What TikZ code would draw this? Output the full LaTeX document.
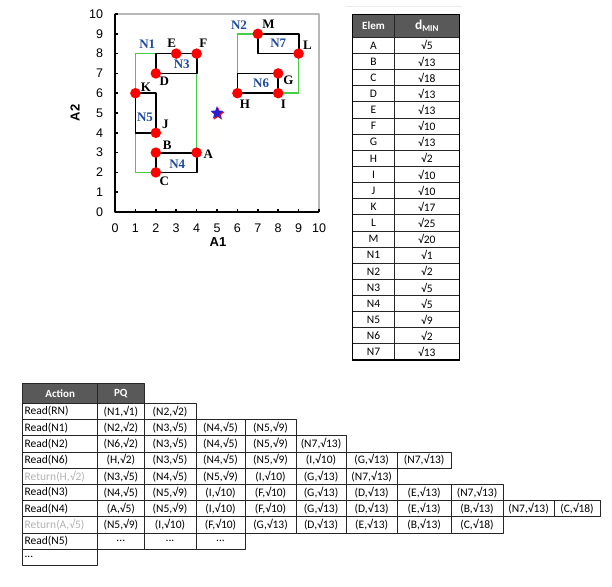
\documentclass[tikz,border=0pt]{standalone}
\usepackage{fontspec}
\setmainfont{Liberation Serif}
\newfontfamily\cellfont{Carlito}
\newfontfamily\axisfont{Liberation Sans}
\usetikzlibrary{shapes.geometric}

\definecolor{nodeblue}{RGB}{31,73,155}
\definecolor{boxgreen}{RGB}{70,205,70}
\definecolor{headgray}{RGB}{89,89,89}
\definecolor{starblue}{RGB}{40,30,215}

\tikzset{
  pt/.style={circle,fill=red,inner sep=0pt,minimum size=10.5pt},
  ptlabel/.style={font=\fontsize{13}{13}\selectfont\bfseries,inner sep=0pt},
  nlabel/.style={ptlabel,text=nodeblue},
  mbr/.style={draw=black,line width=1.8pt},
  gmbr/.style={draw=boxgreen,line width=1.6pt},
  ticklabel/.style={font=\axisfont\fontsize{12.5}{12.5}\selectfont,inner sep=0pt},
  axislabel/.style={font=\axisfont\bfseries\fontsize{13}{13}\selectfont,inner sep=0pt},
  cell/.style={draw=black!85,line width=0.8pt},
  celltext/.style={font=\cellfont\fontsize{11.5}{11.5}\selectfont,inner sep=0pt},
  headcell/.style={cell,fill=headgray},
  headtext/.style={inner sep=0pt,text=white,font=\cellfont\bfseries\fontsize{11}{11}\selectfont}
}

\def\pqcols{{97.7,144,196,245,296,346,397.3,451,503,554,600}}
\newcommand{\moreq}{...}

\begin{document}
\begin{tikzpicture}[line cap=round,line join=round,x=1pt,y=-1pt]
	\useasboundingbox (0,0) rectangle (612,586);

	% the scatter plot
	\begin{scope}[shift={(115,212)},x=20.4pt,y=19.8pt]
		\draw[color=black!28,line width=1.5pt] (0,10) -- (10,10) -- (10,0);
		\draw[gmbr] (1,2) rectangle (4,8);
		\draw[gmbr] (6,6) rectangle (9,9);
		\draw[mbr] (2,7) rectangle (4,8);
		\draw[mbr] (2,2) rectangle (4,3);
		\draw[mbr] (1,4) rectangle (2,6);
		\draw[mbr] (6,6) rectangle (8,7);
		\draw[mbr] (7,8) rectangle (9,9);
		\draw[color=black,line width=2.2pt,line cap=butt] (0,10) -- (0,0) -- (10,0);
		\foreach \i in {0,...,10} {
			\draw[line width=1.5pt,line cap=butt] (\i,0) -- ++(0,0.17);
			\draw[line width=1.5pt,line cap=butt] (0,\i) -- ++(0.17,0);
			\node[ticklabel,anchor=east] (ylab\i) at (-0.58,\i) {\i};
			\node[ticklabel] (xlab\i) at (\i,-0.84) {\i};
		}
		\node[axislabel] (axA1) at (5.05,-1.53) {A1};
		\node[axislabel,rotate=90] (axA2) at (-1.96,5) {A2};
		% MBR names
		\node[nlabel] (nN1) at (1.58,8.48) {N1};
		\node[nlabel] (nN2) at (6.08,9.44) {N2};
		\node[nlabel] (nN3) at (3.27,7.46) {N3};
		\node[nlabel] (nN4) at (3.05,2.41) {N4};
		\node[nlabel] (nN5) at (1.47,4.78) {N5};
		\node[nlabel] (nN6) at (7.16,6.5) {N6};
		\node[nlabel] (nN7) at (8.0,8.52) {N7};
		% points
		\foreach \n/\x/\y/\lx/\ly in {A/4/3/4.57/2.93, B/2/3/2.56/3.35, C/2/2/2.42/1.57,
			D/2/7/2.42/6.62, E/3/8/2.78/8.52, F/4/8/4.33/8.52, G/8/7/8.5/6.67,
			H/6/6/6.37/5.44, I/8/6/8.25/5.44, J/2/4/2.47/4.43, K/1/6/1.52/6.3,
			L/9/8/9.43/8.4, M/7/9/7.52/9.49} {
			\node[pt] (\n) at (\x,\y) {};
			\node[ptlabel] (l\n) at (\lx,\ly) {\n};
		}
		\node[star,star points=5,star point ratio=2.4,fill=red,inner sep=0pt,minimum size=14pt] (qred) at (5.05,4.95) {};
		\node[star,star points=5,star point ratio=2.4,fill=starblue,inner sep=0pt,minimum size=14pt] (q) at (5,5) {};
	\end{scope}

	% distance table
	\draw[color=black!8,line width=1pt] (346,6.5) -- (461.5,6.5);
	\draw[headcell] (352.7,14.3) rectangle (394.3,37.3);
	\draw[headcell] (394.3,14.3) rectangle (459.3,37.3);
	\node[headtext] (hElem) at (373.5,25.8) {Elem};
	\node[headtext] (hdmin) at (426.8,25.8) {{\fontsize{13.5}{13.5}\selectfont d}\raisebox{-2.5pt}{\fontsize{9}{9}\selectfont MIN}};
	\foreach \e/\d [count=\ri from 0] in {A/5,B/13,C/18,D/13,E/13,F/10,G/13,H/2,I/10,J/10,
		K/17,L/25,M/20,N1/1,N2/2,N3/5,N4/5,N5/9,N6/2,N7/13} {
		\pgfmathsetmacro\ytop{37.3+16.135*\ri}
		\pgfmathsetmacro\ybot{\ytop+16.135}
		\draw[cell] (352.7,\ytop) rectangle (394.3,\ybot);
		\draw[cell] (394.3,\ytop) rectangle (459.3,\ybot);
		\node[celltext] (el\ri) at (373.5,\ytop+8.1) {\e};
		\node[celltext] (dm\ri) at (426.8,\ytop+8.1) {√\d};
	}
	\draw[line width=1.3pt] (352.7,14.3) rectangle (459.3,360);

	% priority queue trace
	\draw[headcell] (22.7,383.3) rectangle (97.7,403.3);
	\draw[headcell] (97.7,383.3) rectangle (144,403.3);
	\node[headtext] (hAction) at (60.2,393.3) {Action};
	\node[headtext] (hPQ) at (120.8,393.3) {PQ};
	\foreach \act/\acol/\cells [count=\ri from 0] in {
		Read(RN)/black/{{(N1,√1)},{(N2,√2)}},
		Read(N1)/black/{{(N2,√2)},{(N3,√5)},{(N4,√5)},{(N5,√9)}},
		Read(N2)/black/{{(N6,√2)},{(N3,√5)},{(N4,√5)},{(N5,√9)},{(N7,√13)}},
		Read(N6)/black/{{(H,√2)},{(N3,√5)},{(N4,√5)},{(N5,√9)},{(I,√10)},{(G,√13)},{(N7,√13)}},
		{Return(H,√2)}/black!30/{{(N3,√5)},{(N4,√5)},{(N5,√9)},{(I,√10)},{(G,√13)},{(N7,√13)}},
		Read(N3)/black/{{(N4,√5)},{(N5,√9)},{(I,√10)},{(F,√10)},{(G,√13)},{(D,√13)},{(E,√13)},{(N7,√13)}},
		Read(N4)/black/{{(A,√5)},{(N5,√9)},{(I,√10)},{(F,√10)},{(G,√13)},{(D,√13)},{(E,√13)},{(B,√13)},{(N7,√13)},{(C,√18)}},
		{Return(A,√5)}/black!30/{{(N5,√9)},{(I,√10)},{(F,√10)},{(G,√13)},{(D,√13)},{(E,√13)},{(B,√13)},{(C,√18)}},
		Read(N5)/black/{{\moreq},{\moreq},{\moreq}}} {
		\pgfmathsetmacro\ytop{403.3+16.2*\ri}
		\pgfmathsetmacro\ybot{\ytop+16.2}
		\draw[cell] (22.7,\ytop) rectangle (97.7,\ybot);
		\node[celltext,anchor=west,text=\acol] (act\ri) at (24.4,\ytop+8.1) {\act};
		\foreach \t [count=\ci from 0] in \cells {
			\pgfmathsetmacro\xl{\pqcols[\ci]}
			\pgfmathsetmacro\xr{\pqcols[\ci+1]}
			\draw[cell] (\xl,\ytop) rectangle (\xr,\ybot);
			\node[celltext] (pq\ri-\ci) at ({(\xl+\xr)/2},\ytop+8.1) {\t};
		}
	}
	\draw[cell] (22.7,549.1) rectangle (97.7,565.3);
	\node[celltext,anchor=west] (actend) at (24.4,557.2) {\moreq};
\end{tikzpicture}
\end{document}
